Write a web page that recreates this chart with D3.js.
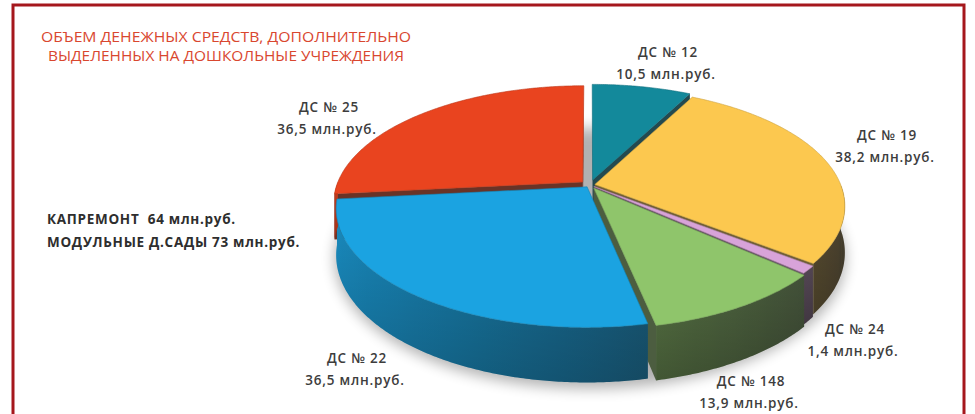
<!DOCTYPE html>
<html>
<head>
<meta charset="utf-8">
<script src="https://cdn.jsdelivr.net/npm/d3@7"></script>
<style>
  body { margin: 0; background: #fff; }
  svg { display: block; }
</style>
</head>
<body>
<div id="chart"></div>
<script>
// данные
const names  = ["ДС № 12", "ДС № 19", "ДС № 24", "ДС № 148", "ДС № 22", "ДС № 25"];
const values = [10.5, 38.2, 1.4, 13.9, 36.5, 36.5];
const colors = ["#13899b", "#fcc84f", "#d8a3d9", "#8fc56b", "#1ba3e1", "#e9441f"];
const titleLines = ["ОБЪЕМ ДЕНЕЖНЫХ СРЕДСТВ, ДОПОЛНИТЕЛЬНО", "ВЫДЕЛЕННЫХ НА ДОШКОЛЬНЫЕ УЧРЕЖДЕНИЯ"];
const noteLines  = ["КАПРЕМОНТ  64 млн.руб.", "МОДУЛЬНЫЕ Д.САДЫ 73 млн.руб."];

// раскладка подписей (центр блока из двух строк) и вынос секторов
const labelPos = [[668, 63], [887, 146], [855, 340], [751, 392], [357, 369], [329, 118]];
const explode  = [0.045, 0.02, 0.02, 0.03, 0.02, 0.04];

const width = 975, height = 414;
const cx = 590, cy = 185, rx = 246, ry = 114.5, k = 0.18, depth = 45;

const svg = d3.select("#chart").append("svg")
  .attr("width", width).attr("height", height)
  .attr("viewBox", `0 0 ${width} ${height}`);

const defs = svg.append("defs");
defs.append("filter").attr("id", "blur").attr("x", "-20%").attr("y", "-50%")
  .attr("width", "140%").attr("height", "200%")
  .append("feGaussianBlur").attr("stdDeviation", 7);
const vshade = defs.append("linearGradient").attr("id", "vshade")
  .attr("x1", 0).attr("x2", 0).attr("y1", 0).attr("y2", 1);
vshade.append("stop").attr("offset", 0).attr("stop-color", "#000").attr("stop-opacity", 0);
vshade.append("stop").attr("offset", 1).attr("stop-color", "#000").attr("stop-opacity", 0.22);

// рамка
svg.append("rect")
  .attr("x", 13).attr("y", 5).attr("width", 951).attr("height", 430)
  .attr("fill", "none").attr("stroke", "#a5171c").attr("stroke-width", 3);

// перспективная проекция диска
function proj(u, v, h) {
  const s = 1 / (1 + k * v);
  return [cx + rx * u * s, cy + (-ry * v + h * depth) * s];
}

const arcs = d3.pie().sort(null).startAngle(0).endAngle(2 * Math.PI)(values);
arcs.forEach((a, i) => {
  const m = (a.startAngle + a.endAngle) / 2;
  a.ou = explode[i] * Math.sin(m);
  a.ov = explode[i] * Math.cos(m);
  a.pt = (th, r, h) => proj(a.ou + r * Math.sin(th), a.ov + r * Math.cos(th), h);
  a.color = colors[i];
  a.i = i;
});

const line = d3.line();

// тень
const shadowPts = d3.range(0, 2 * Math.PI, 0.05).map(t => proj(Math.sin(t) * 1.02, Math.cos(t) * 1.02, 1.1));
svg.append("path")
  .attr("d", line(shadowPts) + "Z")
  .attr("fill", "#000").attr("opacity", 0.3)
  .attr("filter", "url(#blur)");

const gPie = svg.append("g");

function area(p) {
  let s = 0;
  for (let i = 0; i < p.length; i++) {
    const a = p[i], b = p[(i + 1) % p.length];
    s += a[0] * b[1] - b[0] * a[1];
  }
  return s;
}

// боковые срезы секторов
const walls = [];
arcs.forEach(a => {
  [[a.startAngle, -1], [a.endAngle, 1]].forEach(([th, sgn]) => {
    const q = [a.pt(th, 0, 0), a.pt(th, 1, 0), a.pt(th, 1, 1), a.pt(th, 0, 1)];
    if (area(q) * sgn > 0) walls.push({ q, a, v: a.ov + 0.5 * Math.cos(th) });
  });
});
walls.sort((x, y) => y.v - x.v);
gPie.selectAll("path.cut").data(walls).join("path")
  .attr("class", "cut")
  .attr("d", d => line(d.q) + "Z")
  .attr("fill", d => d3.interpolateRgb(d3.color(d.a.color).darker(1.2), "#3a3a3a")(0.5));

// внешняя стенка — один контур на сектор с горизонтальным градиентом
function wallColor(c, th) {
  const side = (Math.sin(th) + 1) / 2;
  return d3.interpolateRgb(d3.color(c).darker(0.3 + 1.4 * side), "#333")(0.05 + 0.7 * Math.pow(side, 2.5));
}
arcs.forEach(a => {
  const t0 = Math.max(a.startAngle, Math.PI / 2), t1 = Math.min(a.endAngle, 3 * Math.PI / 2);
  if (t1 <= t0) return;
  const n = Math.max(2, Math.ceil((t1 - t0) / 0.01));
  const ts = d3.range(n + 1).map(j => t0 + (t1 - t0) * j / n);
  const topPts = ts.map(t => a.pt(t, 1, 0));
  const botPts = ts.map(t => a.pt(t, 1, 1)).reverse();
  const xs = topPts.map(p => p[0]);
  const x0 = d3.min(xs), x1 = d3.max(xs);
  const gid = "wall" + a.i;
  const grad = defs.append("linearGradient").attr("id", gid)
    .attr("gradientUnits", "userSpaceOnUse")
    .attr("x1", x0).attr("x2", x1 > x0 ? x1 : x0 + 1).attr("y1", 0).attr("y2", 0);
  const step = Math.max(1, Math.floor(n / 12));
  ts.forEach((t, j) => {
    if (j % step && j !== n) return;
    grad.append("stop")
      .attr("offset", x1 > x0 ? (xs[j] - x0) / (x1 - x0) : 0)
      .attr("stop-color", wallColor(a.color, t));
  });
  // упорядочить stop'ы по возрастанию offset
  const stops = grad.selectAll("stop").nodes().sort((p, q) => +p.getAttribute("offset") - +q.getAttribute("offset"));
  stops.forEach(s => grad.node().appendChild(s));
  const d = line(topPts.concat(botPts)) + "Z";
  gPie.append("path").attr("d", d).attr("fill", `url(#${gid})`);
  gPie.append("path").attr("d", d).attr("fill", "url(#vshade)");
});

// верхние грани
gPie.selectAll("path.top").data(arcs).join("path")
  .attr("class", "top")
  .attr("d", a => {
    const n = Math.ceil((a.endAngle - a.startAngle) / 0.01);
    const pts = [a.pt(0, 0, 0)];
    for (let j = 0; j <= n; j++) pts.push(a.pt(a.startAngle + (a.endAngle - a.startAngle) * j / n, 1, 0));
    return line(pts) + "Z";
  })
  .attr("fill", a => a.color)
  .attr("stroke", a => d3.color(a.color).darker(0.6))
  .attr("stroke-width", 0.6)
  .attr("stroke-linejoin", "round");

// заголовок
svg.append("g").selectAll("text").data(titleLines).join("text")
  .attr("x", 226).attr("y", (d, i) => 42 + i * 19)
  .attr("text-anchor", "middle")
  .attr("textLength", (d, i) => i === 0 ? 370 : 356)
  .attr("lengthAdjust", "spacingAndGlyphs")
  .style("font-family", "'Open Sans', sans-serif")
  .style("font-size", "14px")
  .style("fill", "#d9472f")
  .text(d => d);

// подписи секторов
const fmt = d3.format(".1f");
const lab = svg.append("g")
  .style("font-family", "'Open Sans', sans-serif")
  .style("font-size", "13.5px")
  .style("font-weight", 600)
  .style("letter-spacing", "0.8px")
  .style("fill", "#3d3d3d")
  .attr("text-anchor", "middle");
names.forEach((n, i) => {
  const [x, y] = labelPos[i];
  lab.append("text").attr("x", x).attr("y", y - 6).text(n);
  lab.append("text").attr("x", x - 2).attr("y", y + 16).text(`${fmt(values[i]).replace(".", ",")} млн.руб.`);
});

// примечание
svg.append("g").selectAll("text").data(noteLines).join("text")
  .attr("x", 47).attr("y", (d, i) => 224 + i * 23)
  .style("font-family", "'Open Sans', sans-serif")
  .style("font-size", "13.5px")
  .style("font-weight", 700)
  .style("letter-spacing", "0.7px")
  .style("fill", "#2e2e2e")
  .style("white-space", "pre")
  .text(d => d);
</script>
</body>
</html>
